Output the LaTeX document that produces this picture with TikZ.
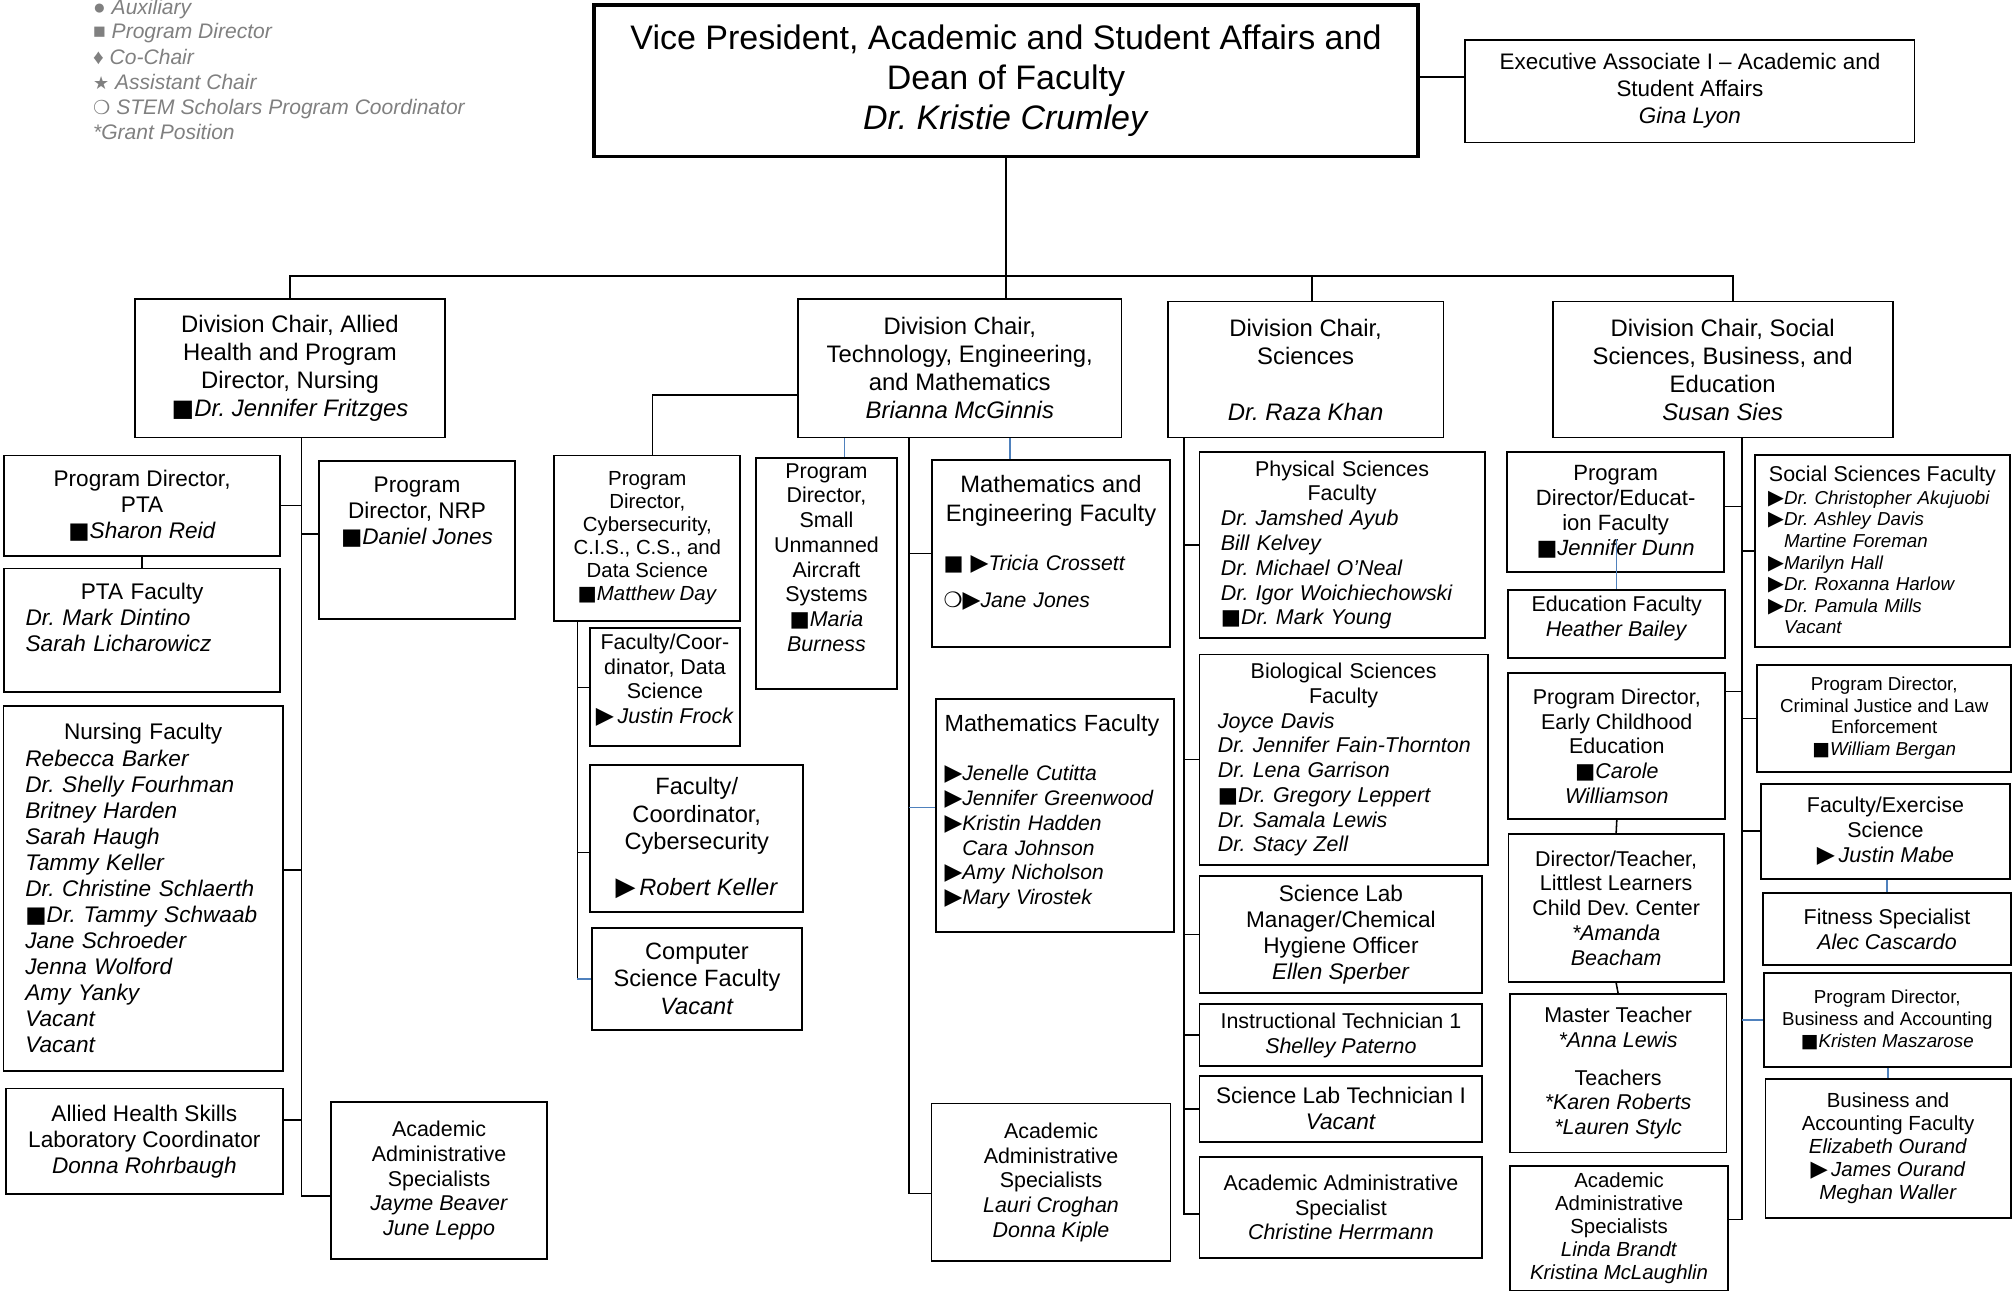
\documentclass[tikz,border=0pt]{standalone}
\usepackage{fontspec}
\usepackage{graphicx}
\setmainfont{Liberation Sans}
\newfontfamily\symfont{DejaVu Sans}
\definecolor{linkblue}{RGB}{79,129,189}
\definecolor{keygray}{RGB}{128,128,128}
\newcommand\fsz[2]{\fontsize{#1bp}{#2bp}\selectfont}
\newcommand\pdm{{\symfont■}}
\newcommand\arw{{\symfont\scalebox{1.1}{▶}}}
\setlength\parindent{0pt}
\frenchspacing

\begin{document}
\begin{tikzpicture}[x=1bp, y=-1bp, line width=1.2bp,
		box/.style 2 args={draw, line width=1.4bp, minimum width=#1bp, minimum height=#2bp, align=center, inner sep=1bp},
		lbox/.style={align=left, text width=#1bp},
		ftitle/.style={font=\fsz{26.5}{31}},
		fchair/.style={font=\fsz{18.6}{21.8}},
		fbig/.style={font=\fsz{18.4}{21.5}},
		fmid/.style={font=\fsz{17.6}{20.3}},
		fnorm/.style={font=\fsz{16.7}{19.3}},
		fsmall/.style={font=\fsz{15.9}{18}},
		ftiny/.style={font=\fsz{14.6}{16.8}},
		keytext/.style={anchor=base west, inner sep=0pt, text=keygray, font=\fsz{16.4}{19.5}},
		link/.style={draw=linkblue}]
			\useasboundingbox (0,0) rectangle (1568,1010);
			% Key
			\node[keytext] (key1) at (72,11.1) {● \textit{Auxiliary}};
			\node[keytext] (key2) at (72,30.1) {■ \textit{Program Director}};
			\node[keytext] (key3) at (72,50.1) {♦ \textit{Co-Chair}};
			\node[keytext] (key4) at (72,69.6) {{\symfont\fsz{14}{14}★} \textit{Assistant Chair}};
			\node[keytext] (key5) at (72,89) {{\symfont\fsz{15}{15}❍} \textit{STEM Scholars Program Coordinator}};
			\node[keytext] (key6) at (72,109) {\textit{*Grant Position}};
			% Vice President
			\node[box={642}{118}, ftitle, line width=2.8bp] (vp) at (784,63) {Vice President, Academic and Student Affairs and\\Dean of Faculty\\\textit{Dr. Kristie Crumley}};
			\node[box={350}{80}, font=\fsz{17.5}{21}] (exec) at (1317,71) {Executive Associate I – Academic and\\Student Affairs\\\textit{Gina Lyon}};
			% Division chairs
			\node[box={242}{108}, fchair] (allied) at (226,287) {Division Chair, Allied\\Health and Program\\Director, Nursing\\\pdm\textit{Dr. Jennifer Fritzges}};
			\node[box={252}{108}, fchair] (tem) at (748,287) {Division Chair,\\Technology, Engineering,\\and Mathematics\\\textit{Brianna McGinnis}};
			\node[box={215}{106}, fchair] (sci) at (1017.5,288) {Division Chair,\\Sciences\\[21.8bp]\textit{Dr. Raza Khan}};
			\node[box={265}{106}, fchair] (soc) at (1342.5,288) {Division Chair, Social\\Sciences, Business, and\\Education\\\textit{Susan Sies}};
			% Allied Health
			\node[box={215.5}{78}, fmid] (ptapd) at (110.75,394) {Program Director,\\PTA\\\pdm\textit{Sharon Reid}};
			\node[box={215.5}{96}, fmid, lbox=181.5] (ptafac) at (110.75,491) {\makebox[\hsize]{PTA Faculty}\\\textit{Dr. Mark Dintino}\\\textit{Sarah Licharowicz}\\\mbox{}};
			\node[box={153}{123.4}, fmid] (nrp) at (325,420.7) {Program\\Director, NRP\\\pdm\textit{Daniel Jones}\\[25bp]\mbox{}};
			\node[box={217.6}{284.4}, fmid, lbox=183.6] (nursing) at (111.6,692.2) {\makebox[\hsize]{Nursing Faculty}\\\textit{Rebecca Barker}\\\textit{Dr. Shelly Fourhman}\\\textit{Britney Harden}\\\textit{Sarah Haugh}\\\textit{Tammy Keller}\\\textit{Dr. Christine Schlaerth}\\\pdm\textit{Dr. Tammy Schwaab}\\\textit{Jane Schroeder}\\\textit{Jenna Wolford}\\\textit{Amy Yanky}\\\textit{Vacant}\\\textit{Vacant}};
			\node[box={215.7}{82.4}, fmid] (ah) at (112.5,889.5) {Allied Health Skills\\Laboratory Coordinator\\\textit{Donna Rohrbaugh}};
			\node[box={168.4}{122}, fnorm] (aaall) at (342.2,920) {Academic\\Administrative\\Specialists\\\textit{Jayme Beaver}\\\textit{June Leppo}};
			% Technology, Engineering and Mathematics
			\node[box={145}{129}, fsmall] (cyberpd) at (504.5,419.5) {Program\\Director,\\Cybersecurity,\\C.I.S., C.S., and\\Data Science\\\pdm\textit{Matthew Day}};
			\node[box={117}{92}, fnorm] (datasci) at (518.2,535.6) {Faculty/Coor-\\dinator, Data\\Science\\\arw\,\textit{Justin Frock}\\[-6bp]\mbox{}};
			\node[box={166}{114.5}, fbig] (faccyber) at (543,653.2) {Faculty/\\Coordinator,\\Cybersecurity\\[14bp]\arw\,\textit{Robert Keller}};
			\node[box={163.5}{79.6}, fbig] (csfac) at (543.2,762.8) {Computer\\Science Faculty\\\textit{Vacant}};
			\node[box={109.4}{180}, fnorm] (uas) at (644.1,447) {Program\\Director,\\Small\\Unmanned\\Aircraft\\Systems\\\pdm\textit{Maria}\\\textit{Burness}\\[6bp]\mbox{}};
			\node[box={185.4}{145.5}, font=\fsz{16.5}{19}, lbox=167.4] (mathe) at (819.1,431.2) {\makebox[\hsize]{\fsz{18.5}{22}Mathematics and}\\[3.5bp]\makebox[\hsize]{\fsz{18.5}{22}Engineering Faculty}\\[19bp]\pdm\ \arw\textit{Tricia Crossett}\\[10bp]{\symfont ❍}\arw\textit{Jane Jones}\\[-1bp]\mbox{}};
			\node[box={185.9}{181.7}, font=\fsz{16.4}{19.3}, lbox=172] (mathfac) at (822.1,635.4) {\mbox{\fsz{18.2}{21}Mathematics Faculty}\\[19.4bp]\arw\textit{Jenelle Cutitta}\\\arw\textit{Jennifer Greenwood}\\\arw\textit{Kristin Hadden}\\\phantom{\arw}\textit{Cara Johnson}\\\arw\textit{Amy Nicholson}\\\arw\textit{Mary Virostek}\\[-10bp]\mbox{}};
			\node[box={186.3}{123}, fnorm] (aatem) at (819.1,921.5) {Academic\\Administrative\\Specialists\\\textit{Lauri Croghan}\\\textit{Donna Kiple}};
			% Sciences
			\node[box={222.2}{145.5}, fnorm, lbox=189] (phys) at (1045.9,424.7) {\makebox[\hsize]{Physical Sciences}\\\makebox[\hsize]{Faculty}\\\textit{Dr. Jamshed Ayub}\\\textit{Bill Kelvey}\\\textit{Dr. Michael O’Neal}\\\textit{Dr. Igor Woichiechowski}\\\pdm\textit{Dr. Mark Young}};
			\node[box={224.6}{164}, fnorm, lbox=196] (bio) at (1047.1,592) {\makebox[\hsize]{Biological Sciences}\\\makebox[\hsize]{Faculty}\\\textit{Joyce Davis}\\\mbox{\textit{Dr. Jennifer Fain-Thornton}}\\\textit{Dr. Lena Garrison}\\\pdm\textit{Dr. Gregory Leppert}\\\textit{Dr. Samala Lewis}\\\textit{Dr. Stacy Zell}};
			\node[box={220.5}{90.9}, fmid] (slm) at (1045,728.1) {Science Lab\\Manager/Chemical\\Hygiene Officer\\\textit{Ellen Sperber}};
			\node[box={220.5}{48}, fnorm] (instr) at (1045,806.7) {Instructional Technician 1\\\textit{Shelley Paterno}};
			\node[box={220.5}{51.2}, fmid] (sltech) at (1045,864.1) {Science Lab Technician I\\\textit{Vacant}};
			\node[box={220.5}{79.2}, fnorm] (aasci) at (1045,941) {Academic Administrative\\Specialist\\\textit{Christine Herrmann}};
			% Social Sciences, Business and Education
			\node[box={168.8}{93.5}, font=\fsz{17.2}{19.3}] (pdedu) at (1259.1,398.8) {Program\\Director/Educat-\\ion Faculty\\\pdm\textit{Jennifer Dunn}};
			\node[box={168.8}{52.7}, fnorm] (edu) at (1259.9,486.2) {Education Faculty\\\textit{Heather Bailey}\\[-7bp]\mbox{}};
			\node[box={169}{113.8}, fnorm] (early) at (1260,581.6) {Program Director,\\Early Childhood\\Education\\\pdm\textit{Carole}\\\textit{Williamson}};
			\node[box={167.7}{115.4}, fnorm] (littlest) at (1259.5,707.6) {Director/Teacher,\\Littlest Learners\\Child Dev. Center\\\textit{*Amanda}\\\textit{Beacham}};
			\node[box={169}{123.6}, fnorm] (master) at (1261,836.4) {Master Teacher\\\textit{*Anna Lewis}\\[10bp]Teachers\\\textit{*Karen Roberts}\\\textit{*Lauren Stylc}};
			\node[box={169.6}{96.9}, fsmall] (aasoc) at (1261.8,957.3) {Academic\\Administrative\\Specialists\\\textit{Linda Brandt}\\\textit{Kristina McLaughlin}};
			\node[box={198.7}{149.9}, ftiny, lbox=178] (socsci) at (1467,429.5) {\makebox[\hsize]{\fsz{16.7}{19}Social Sciences Faculty}\\[1bp]\arw\textit{Dr. Christopher Akujuobi}\\\arw\textit{Dr. Ashley Davis}\\\phantom{\arw}\textit{Martine Foreman}\\\arw\textit{Marilyn Hall}\\\arw\textit{Dr. Roxanna Harlow}\\\arw\textit{Dr. Pamula Mills}\\\phantom{\arw}\textit{Vacant}};
			\node[box={197.7}{83.2}, ftiny] (crimj) at (1468.4,559.8) {Program Director,\\Criminal Justice and Law\\Enforcement\\\pdm\textit{William Bergan}};
			\node[box={194.2}{73.9}, fnorm] (facex) at (1469.4,647.8) {Faculty/Exercise\\Science\\\arw\,\textit{Justin Mabe}};
			\node[box={192.8}{56.3}, fnorm] (fitness) at (1470.6,724) {Fitness Specialist\\\textit{Alec Cascardo}};
			\node[box={192.5}{73.2}, ftiny] (bapd) at (1470.8,794.8) {Program Director,\\Business and Accounting\\\pdm\textit{Kristen Maszarose}};
			\node[box={191.2}{107.9}, fsmall] (bafac) at (1471.4,895) {Business and\\Accounting Faculty\\\textit{Elizabeth Ourand}\\\arw\,\textit{James Ourand}\\\textit{Meghan Waller}};
			% Top level lines
			\draw[line width=2bp] ([yshift=3bp]vp.east) -- ([yshift=3bp]vp.east -| exec.west);
			\draw (vp.south) -- (vp.south |- tem.north);
			\coordinate (bus) at (784,215);
			\draw (allied.north) |- (bus) -| ([xshift=8bp]soc.north);
			\draw ([xshift=5bp]sci.north) -- ([xshift=5bp]sci.north |- bus);
			% Allied Health lines
			\coordinate (alltrunk) at ([xshift=9bp]allied.south);
			\draw (alltrunk) |- ([yshift=-12bp]aaall.west);
			\draw (ptapd.east) -- (ptapd.east -| alltrunk);
			\draw (ptapd.south) -- (ptafac.north);
			\draw ([yshift=4.5bp]nrp.west) -- ([yshift=4.5bp]nrp.west -| alltrunk);
			\draw ([yshift=14bp]nursing.east) -- ([yshift=14bp]nursing.east -| alltrunk);
			\draw ([yshift=16.7bp]ah.east) -- ([yshift=16.7bp]ah.east -| alltrunk);
			% TEM lines
			\draw ([yshift=-21bp]tem.west) -| ([xshift=4bp]cyberpd.north);
			\draw[link] ([xshift=14bp]uas.north) -- ([xshift=14bp]uas.north |- tem.south);
			\draw[link] ([xshift=-32bp]mathe.north) -- ([xshift=-32bp]mathe.north |- tem.south);
			\coordinate (temtrunk) at ([xshift=87bp]tem.south west);
			\draw (temtrunk) |- ([yshift=-8.5bp]aatem.west);
			\draw (mathe.west) -- (mathe.west -| temtrunk);
			\draw[link] ([yshift=6bp]mathfac.west) -- ([yshift=6bp]mathfac.west -| temtrunk);
			\coordinate (cybtrunk) at ([xshift=18.6bp]cyberpd.south west);
			\draw (cybtrunk) -- (cybtrunk |- csfac.west);
			\draw (datasci.west) -- (datasci.west -| cybtrunk);
			\draw ([yshift=-11bp]faccyber.west) -- ([yshift=-11bp]faccyber.west -| cybtrunk);
			\draw[link] (csfac.west) -- (csfac.west -| cybtrunk);
			% Sciences lines
			\coordinate (scitrunk) at ([xshift=13.3bp]sci.south west);
			\draw (scitrunk) |- ([yshift=-5bp]aasci.west);
			\draw (phys.west) -- (phys.west -| scitrunk);
			\draw (bio.west) -- (bio.west -| scitrunk);
			\draw (slm.west) -- (slm.west -| scitrunk);
			\draw (instr.west) -- (instr.west -| scitrunk);
			\draw (sltech.west) -- (sltech.west -| scitrunk);
			% Social Sciences lines
			\coordinate (soctrunk) at ([xshift=15bp]soc.south);
			\draw (soctrunk) |- ([yshift=7bp]aasoc.east);
			\draw ([yshift=4bp]pdedu.east) -- ([yshift=4bp]pdedu.east -| soctrunk);
			\draw[link] (edu.north) -- ([yshift=26bp]edu.north |- pdedu.south);
			\draw ([yshift=42.6bp]early.east) -- ([yshift=42.6bp]early.east -| soctrunk);
			\draw (early.south) -- (littlest.north);
			\draw (littlest.south) -- (master.north);
			\draw (socsci.west) -- (socsci.west -| soctrunk);
			\draw (crimj.west) -- (crimj.west -| soctrunk);
			\draw (facex.west) -- (facex.west -| soctrunk);
			\draw[link] (fitness.north) -- (fitness.north |- facex.south);
			\draw[link] (bapd.west) -- (bapd.west -| soctrunk);
			\draw[link] (bafac.north) -- (bafac.north |- bapd.south);
		\end{tikzpicture}
\end{document}
